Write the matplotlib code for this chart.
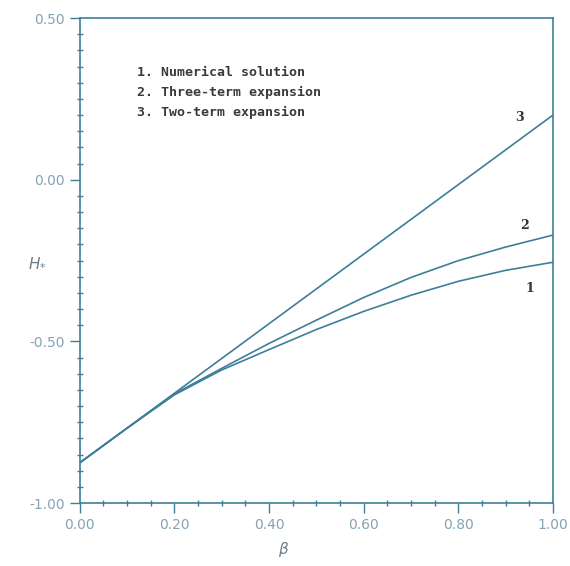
# Scanned figure: H* versus beta, numerical solution vs two asymptotic expansions
import numpy as np
import matplotlib
matplotlib.use('Agg')
import matplotlib.pyplot as plt
from matplotlib.ticker import MultipleLocator

# Data
beta = [0.0, 0.1, 0.2, 0.3, 0.4, 0.5, 0.6, 0.7, 0.8, 0.9, 1.0]
numerical = [-0.875, -0.768, -0.665, -0.588, -0.525, -0.463, -0.407, -0.357, -0.314, -0.280, -0.255]
three_term = [-0.875, -0.768, -0.662, -0.583, -0.506, -0.434, -0.364, -0.302, -0.250, -0.208, -0.171]
two_term = [-0.875, -0.7675, -0.66, -0.5525, -0.445, -0.3375, -0.23, -0.1225, -0.015, 0.0925, 0.20]
curve_tags = ['1', '2', '3']
legend_lines = ['1. Numerical solution', '2. Three-term expansion', '3. Two-term expansion']
x_ticks = [0.0, 0.2, 0.4, 0.6, 0.8, 1.0]
y_ticks = [-1.0, -0.5, 0.0, 0.5]

# Styles
line_color = '#3d7f99'
label_color = '#86a3b3'

fig = plt.figure(figsize=(5.70, 5.66), dpi=100)
ax = fig.add_axes([0.140, 0.111, 0.830, 0.857])

for series in [numerical, three_term, two_term]:
    ax.plot(beta, series, color=line_color, lw=1.2)

# Curve numbers near the right end
tag_pos = [(0.951, -0.335), (0.940, -0.140), (0.930, 0.194)]
for tag, (tx, ty) in zip(curve_tags, tag_pos):
    ax.text(tx, ty, tag, fontsize=9, family='DejaVu Serif', fontweight='bold',
            color='#333333', ha='center', va='center')

# Legend as typed text block (axes fraction)
for i, s in enumerate(legend_lines):
    ax.text(0.12, 0.888 - i * 0.041, s, fontsize=9.5, family='DejaVu Sans Mono',
            fontweight='bold', color='#3a3a3a', va='center', ha='left',
            transform=ax.transAxes)

ax.set_xlim(0.0, 1.0)
ax.set_ylim(-1.0, 0.5)
ax.set_xticks(x_ticks)
ax.set_yticks(y_ticks)
ax.set_xticklabels(['%.2f' % v for v in x_ticks])
ax.set_yticklabels(['%.2f' % v for v in y_ticks])
ax.xaxis.set_minor_locator(MultipleLocator(0.05))
ax.yaxis.set_minor_locator(MultipleLocator(0.05))
ax.tick_params(which='major', direction='out', length=7, width=1.0, color=line_color,
               labelsize=10, labelcolor=label_color, pad=4)
ax.tick_params(which='minor', direction='inout', length=4, width=1.0, color=line_color)

for sp in ax.spines.values():
    sp.set_color(line_color)
    sp.set_linewidth(1.2)

ax.set_xlabel(r'$\beta$', fontsize=11, color='#6b7f8a', va='center')
ax.xaxis.set_label_coords(0.43, -0.095)
ax.set_ylabel(r'$H_{*}$', fontsize=11, color='#6b7f8a', rotation=0, va='center')
ax.yaxis.set_label_coords(-0.09, 0.497)

fig.savefig('out.png', dpi=100, facecolor='white')
